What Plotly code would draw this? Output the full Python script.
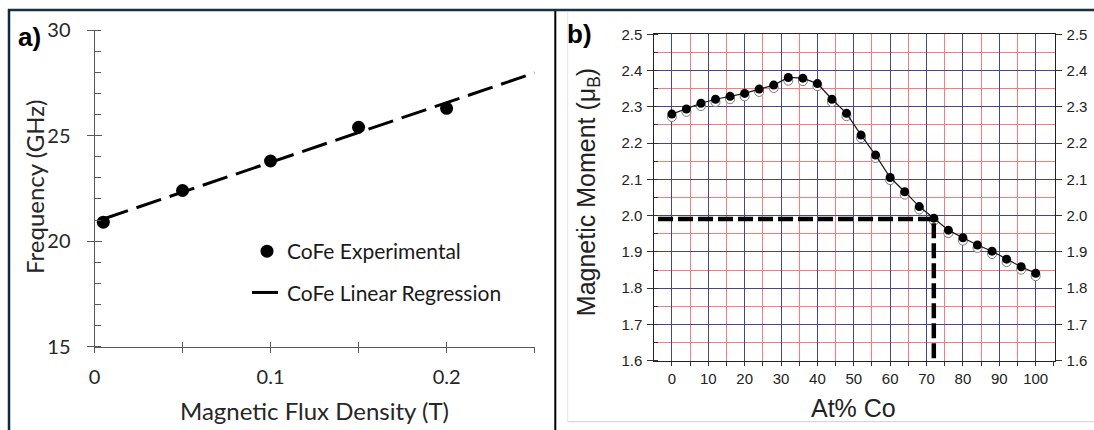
import plotly.graph_objects as go

W, H = 1094, 430

# ---------------- data: panel a ----------------
flux_T = [0.005, 0.05, 0.10, 0.15, 0.20]
freq_GHz = [20.9, 22.4, 23.8, 25.4, 26.3]
fit_T = [0.005, 0.25]
fit_GHz = [21.05, 27.98]
xa_labelvals = [0, 0.1, 0.2]
xa_labels = ["0", "0.1", "0.2"]
xa_tickvals = [0, 0.05, 0.10, 0.15, 0.20, 0.25]
ya_labelvals = [15, 20, 25, 30]

# ---------------- data: panel b ----------------
co_pct = [0, 4, 8, 12, 16, 20, 24, 28, 32, 36, 40, 44, 48, 52, 56, 60, 64, 68, 72, 76, 80, 84, 88, 92, 96, 100]
moment_filled = [2.280, 2.294, 2.310, 2.321, 2.329, 2.337, 2.349, 2.360, 2.381, 2.379, 2.364, 2.321, 2.282,
                 2.222, 2.167, 2.105, 2.066, 2.025, 1.993, 1.960, 1.939, 1.919, 1.902, 1.880, 1.859, 1.841]
moment_open = [2.272, 2.286, 2.302, 2.313, 2.321, 2.329, 2.341, 2.352, 2.372, 2.371, 2.357, 2.313, 2.274,
               2.214, 2.159, 2.098, 2.058, 2.017, 1.986, 1.952, 1.931, 1.911, 1.894, 1.872, 1.851, 1.833]
guide_x = [-3.8, 72, 72]
guide_y = [1.991, 1.991, 1.6]


def px(x):
    return x / W


def py(y):
    return 1 - y / H


CAL = "Lato"
ARI = "Liberation Sans"
TXT_A = "#262626"
TXT_B = "#222222"
AX_A = "#595959"
BLUE_GRID = "#46468c"
RED_GRID = "#ff7a7a"

fig = go.Figure()

# panel a traces
fig.add_trace(go.Scatter(x=flux_T, y=freq_GHz, mode="markers", name="CoFe Experimental",
                         marker=dict(color="black", size=13), xaxis="x", yaxis="y",
                         legendgroup="g1"))
fig.add_trace(go.Scatter(x=fit_T, y=fit_GHz, mode="lines", name="CoFe Linear Regression",
                         line=dict(color="black", width=3, dash="26px,9px"), xaxis="x", yaxis="y",
                         legendgroup="g2"))
# helper (empty) trace so the overlay tick axes are drawn
fig.add_trace(go.Scatter(x=[None], y=[None], xaxis="x3", yaxis="y4", showlegend=False, hoverinfo="skip"))

# panel b traces
fig.add_trace(go.Scatter(x=co_pct, y=moment_open, mode="markers", showlegend=False,
                         marker=dict(color="white", size=9, line=dict(color="#7a7a7a", width=1)),
                         xaxis="x2", yaxis="y2"))
fig.add_trace(go.Scatter(x=co_pct, y=moment_filled, mode="lines+markers", showlegend=False,
                         line=dict(color="#1a1a1a", width=1.2),
                         marker=dict(color="black", size=9),
                         xaxis="x2", yaxis="y2"))
fig.add_trace(go.Scatter(x=guide_x, y=guide_y, mode="lines", showlegend=False,
                         line=dict(color="black", width=4.5, dash="15px,5px"),
                         xaxis="x2", yaxis="y2"))
# helper (empty) trace so the right-hand tick labels are drawn
fig.add_trace(go.Scatter(x=[None], y=[None], xaxis="x2", yaxis="y3", showlegend=False, hoverinfo="skip"))

dom_ax = [px(94.5), px(534.6)]
dom_ay = [py(346.5), py(30.3)]
dom_bx = [px(654.4), px(1054.6)]
dom_by = [py(360.7), py(34.3)]

fig.update_layout(
    template="none",
    width=W, height=H,
    margin=dict(l=0, r=0, t=0, b=0, autoexpand=False),
    paper_bgcolor="white", plot_bgcolor="rgba(0,0,0,0)",
    showlegend=True,
    legend=dict(x=px(247), y=py(231), xanchor="left", yanchor="top",
                font=dict(family=CAL, size=21, color="#1a1a1a"),
                bgcolor="rgba(0,0,0,0)", borderwidth=0, tracegroupgap=11, itemwidth=30),
    xaxis=dict(domain=dom_ax, range=[0, 0.25], anchor="y", automargin=False,
               tickvals=xa_labelvals, ticktext=xa_labels,
               ticks="outside", ticklen=5, tickcolor=AX_A, tickwidth=1,
               minor=dict(tickvals=xa_tickvals, ticks="outside", ticklen=5, tickcolor=AX_A,
                          tickwidth=1, showgrid=False),
               showline=True, linecolor=AX_A, linewidth=1, showgrid=False, zeroline=False,
               tickfont=dict(family=CAL, size=20, color=TXT_A), ticklabelstandoff=7),
    xaxis3=dict(overlaying="x", matches="x", anchor="y4", range=[0, 0.25], automargin=False,
                tickvals=xa_tickvals, ticks="inside", ticklen=5, tickcolor=AX_A, tickwidth=1,
                showticklabels=False, showline=False, showgrid=False, zeroline=False),
    yaxis=dict(domain=dom_ay, range=[15, 30], anchor="x", automargin=False,
               tickvals=ya_labelvals, ticks="outside", ticklen=7, tickcolor=AX_A, tickwidth=1,
               minor=dict(dtick=1, ticks="inside", ticklen=6, tickcolor=AX_A, showgrid=False),
               showline=True, linecolor=AX_A, linewidth=1, showgrid=False, zeroline=False,
               tickfont=dict(family=CAL, size=20, color=TXT_A), ticklabelstandoff=12),
    yaxis4=dict(overlaying="y", matches="y", anchor="x3", range=[15, 30], automargin=False,
                tickvals=ya_labelvals, ticks="inside", ticklen=7, tickcolor=AX_A, tickwidth=1,
                showticklabels=False, showline=False, showgrid=False, zeroline=False),
    xaxis2=dict(domain=dom_bx, range=[-4.8, 105.2], anchor="y2", automargin=False,
                tickvals=list(range(0, 101, 10)), ticks="outside", ticklen=4, tickcolor="#333",
                showgrid=True, gridcolor=BLUE_GRID, gridwidth=1.2,
                minor=dict(dtick=5, tick0=0, ticks="outside", ticklen=4, tickcolor="#333",
                           showgrid=True, gridcolor=RED_GRID, gridwidth=1),
                showline=True, linecolor="#222", linewidth=1, mirror=True, zeroline=False,
                tickfont=dict(family=ARI, size=15, color=TXT_B), ticklabelstandoff=0),
    yaxis2=dict(domain=dom_by, range=[1.6, 2.5], anchor="x2", automargin=False,
                dtick=0.1, tick0=1.6, tickformat=".1f", ticks="outside", ticklen=6, tickcolor="#333",
                showgrid=True, gridcolor=BLUE_GRID, gridwidth=1.2,
                minor=dict(dtick=0.05, tick0=1.6, ticks="inside", ticklen=4, tickcolor="#333",
                           showgrid=True, gridcolor=RED_GRID, gridwidth=1),
                showline=True, linecolor="#222", linewidth=1, mirror=True, zeroline=False,
                tickfont=dict(family=ARI, size=15, color=TXT_B), ticklabelstandoff=2),
    yaxis3=dict(overlaying="y2", matches="y2", anchor="x2", side="right", range=[1.6, 2.5],
                automargin=False,
                dtick=0.1, tick0=1.6, tickformat=".1f", ticks="outside", ticklen=6, tickcolor="#333",
                showgrid=False, showline=False, zeroline=False,
                tickfont=dict(family=ARI, size=15, color=TXT_B), ticklabelstandoff=2),
)

# axis titles and panel labels
ann = [
    dict(text="Frequency (GHz)", x=px(34), y=py(187), textangle=-90,
         font=dict(family=CAL, size=24, color=TXT_A)),
    dict(text="Magnetic Flux Density (T)", x=px(314), y=py(410),
         font=dict(family=CAL, size=24, color=TXT_A)),
    dict(text="<b>a)</b>", x=px(29.5), y=py(37), font=dict(family=ARI, size=26, color="black")),
    dict(text="<b>b)</b>", x=px(579.7), y=py(34), font=dict(family=ARI, size=26, color="black")),
    dict(text="Magnetic Moment (μ<sub>B</sub>)", x=px(587.7), y=py(192.5), textangle=-90,
         font=dict(family=ARI, size=25, color=TXT_B)),
    dict(text="At% Co", x=px(853.4), y=py(408.3), font=dict(family=ARI, size=25, color=TXT_B)),
]
for a in ann:
    a.update(xref="paper", yref="paper", showarrow=False, xanchor="center", yanchor="middle")
fig.update_layout(annotations=ann)

# frame decorations
shapes = [
    dict(type="line", x0=px(8), x1=1, y0=py(10), y1=py(10), line=dict(color="#173042", width=2.5)),
    dict(type="line", x0=px(9), x1=px(9), y0=py(9), y1=0, line=dict(color="#0f2b3d", width=2.5)),
    dict(type="line", x0=px(555.3), x1=px(555.3), y0=py(11), y1=0, line=dict(color="black", width=2)),
    dict(type="line", x0=px(567.7), x1=px(567.7), y0=py(12), y1=py(421.7), line=dict(color="#e6e6e6", width=1)),
    dict(type="line", x0=px(567.7), x1=1, y0=py(421.7), y1=py(421.7), line=dict(color="#cfcfcf", width=1)),
]
for s in shapes:
    s.update(xref="paper", yref="paper")
fig.update_layout(shapes=shapes)

fig.write_html("out.html", config={"displayModeBar": False},
               post_script="document.body.style.margin='0';document.body.style.overflow='hidden';")
